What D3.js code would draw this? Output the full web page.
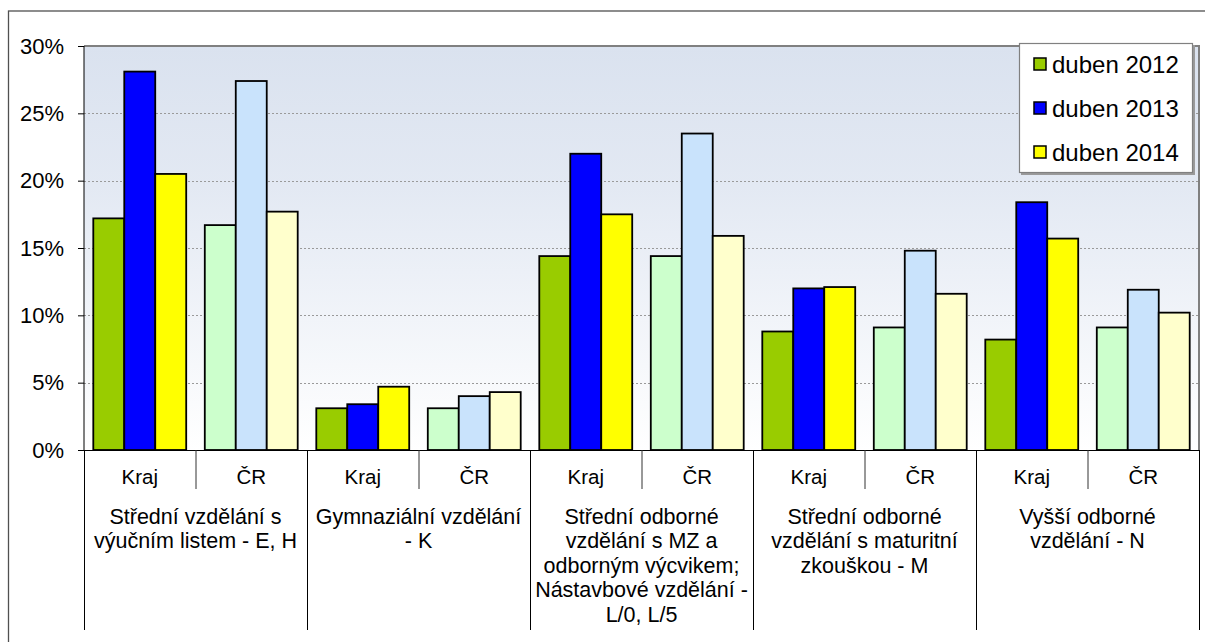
<!DOCTYPE html>
<html><head><meta charset="utf-8">
<script src="https://cdn.jsdelivr.net/npm/d3@7"></script>
<style>html,body{margin:0;padding:0;background:#fff;}svg{display:block;font-family:"Liberation Sans",Arial,sans-serif;}</style>
</head><body>
<svg id="chart" width="1205" height="642"></svg>
<script>
const groups = [
  ["Střední vzdělání s", "výučním listem - E, H"],
  ["Gymnaziální vzdělání", "- K"],
  ["Střední odborné", "vzdělání s MZ a", "odborným výcvikem;", "Nástavbové vzdělání -", "L/0, L/5"],
  ["Střední odborné", "vzdělání s maturitní", "zkouškou - M"],
  ["Vyšší odborné", "vzdělání - N"]
];
const subLabels = ["Kraj", "ČR"];
const seriesNames = ["duben 2012", "duben 2013", "duben 2014"];
const s2012 = [17.2, 16.7, 3.1, 3.1, 14.4, 14.4, 8.8, 9.1, 8.2, 9.1];
const s2013 = [28.1, 27.4, 3.4, 4.0, 22.0, 23.5, 12.0, 14.8, 18.4, 11.9];
const s2014 = [20.5, 17.7, 4.7, 4.3, 17.5, 15.9, 12.1, 11.6, 15.7, 10.2];
const yTicks = [0, 5, 10, 15, 20, 25, 30];
const krajColors = ["#99CC00", "#0000FF", "#FFFF00"];
const crColors = ["#CCFFCC", "#C9E3FC", "#FFFFCC"];

const seriesValues = [s2012, s2013, s2014];
const svg = d3.select("#chart");
const L = 84, R = 1199, T = 46, B = 450;

// outer frame
svg.append("rect").attr("x", 8.5).attr("y", 11).attr("width", 1210).attr("height", 640)
  .attr("fill", "none").attr("stroke", "#505050").attr("stroke-width", 1.3);

const defs = svg.append("defs");
const grad = defs.append("linearGradient").attr("id", "bg").attr("x1", 0).attr("y1", 0).attr("x2", 0).attr("y2", 1);
grad.append("stop").attr("offset", "0%").attr("stop-color", "#DAE2EF");
grad.append("stop").attr("offset", "35%").attr("stop-color", "#E3E9F3");
grad.append("stop").attr("offset", "100%").attr("stop-color", "#FFFFFF");

svg.append("rect").attr("x", L).attr("y", T).attr("width", R - L).attr("height", B - T).attr("fill", "url(#bg)");

const y = d3.scaleLinear().domain([0, 30]).range([B, T]);
const subKeys = d3.range(10);
const x0 = d3.scaleBand().domain(subKeys).range([L, R]).paddingInner(0).paddingOuter(0);
const x1 = d3.scaleBand().domain(d3.range(3)).range([0, x0.bandwidth()]).paddingInner(0).paddingOuter(0.3);
const xg = d3.scaleBand().domain(d3.range(groups.length)).range([L, R]);

// gridlines
svg.append("g").selectAll("line").data(yTicks.filter(t => t > 0 && t < 30)).join("line")
  .attr("x1", L).attr("x2", R).attr("y1", d => Math.round(y(d)) + 0.5).attr("y2", d => Math.round(y(d)) + 0.5)
  .attr("stroke", "#9a9a9a").attr("stroke-width", 1).attr("stroke-dasharray", "2,2");

// plot border top & right
svg.append("line").attr("x1", L).attr("x2", R + 1).attr("y1", T).attr("y2", T).attr("stroke", "#808080").attr("stroke-width", 2);
svg.append("line").attr("x1", R).attr("x2", R).attr("y1", T).attr("y2", B).attr("stroke", "#808080").attr("stroke-width", 2);

// bars
const barData = [];
subKeys.forEach(i => seriesValues.forEach((vals, s) => barData.push({i, s, v: vals[i]})));
svg.append("g").selectAll("rect").data(barData).join("rect")
  .attr("x", d => x0(d.i) + x1(d.s))
  .attr("y", d => y(d.v))
  .attr("width", x1.bandwidth())
  .attr("height", d => B - y(d.v))
  .attr("fill", d => (d.i % 2 === 0 ? krajColors : crColors)[d.s])
  .attr("stroke", "#000").attr("stroke-width", 1.8);

// y axis
const yAxis = d3.axisLeft(y).tickValues(yTicks).tickSize(6).tickPadding(14).tickFormat(d => d + "%");
const ga = svg.append("g").attr("transform", `translate(${L},0)`).call(yAxis);
ga.select(".domain").attr("stroke", "#000").attr("d", `M0,${T}V${B}`);
ga.selectAll(".tick line").attr("stroke", "#000");
ga.selectAll(".tick text").attr("font-size", 22).attr("fill", "#000").attr("font-family", "Liberation Sans, Arial, sans-serif");

// x axis baseline
svg.append("line").attr("x1", L - 6).attr("x2", R).attr("y1", B + 0.5).attr("y2", B + 0.5).attr("stroke", "#000").attr("stroke-width", 1.2);

// sub separators
svg.append("g").selectAll("line").data(subKeys.filter(i => i % 2 === 1)).join("line")
  .attr("x1", i => x0(i) + 0.5).attr("x2", i => x0(i) + 0.5).attr("y1", B).attr("y2", 489)
  .attr("stroke", "#333").attr("stroke-width", 1);
// group separators
svg.append("g").selectAll("line").data(d3.range(groups.length + 1)).join("line")
  .attr("x1", g => (g < groups.length ? xg(g) : R) + 0.5).attr("x2", g => (g < groups.length ? xg(g) : R) + 0.5)
  .attr("y1", B).attr("y2", 630).attr("stroke", "#000").attr("stroke-width", 1);

// sub labels
svg.append("g").selectAll("text").data(subKeys).join("text")
  .attr("x", i => x0(i) + x0.bandwidth() / 2).attr("y", 484)
  .attr("text-anchor", "middle").attr("font-size", 20.5).attr("fill", "#000")
  .text(i => subLabels[i % 2]);

// group labels
const gl = svg.append("g").selectAll("text").data(groups).join("text")
  .attr("text-anchor", "middle").attr("font-size", 21.5).attr("fill", "#000");
gl.each(function(lines, g) {
  d3.select(this).selectAll("tspan").data(lines).join("tspan")
    .attr("x", xg(g) + xg.bandwidth() / 2)
    .attr("y", (d, k) => 524 + k * 24.4)
    .text(d => d);
});

// legend
const lg = svg.append("g");
lg.append("rect").attr("x", 1021).attr("y", 45).attr("width", 174).attr("height", 130).attr("fill", "#9a9a9a");
lg.append("rect").attr("x", 1019.5).attr("y", 43.5).attr("width", 173).attr("height", 129).attr("fill", "#fff").attr("stroke", "#808080").attr("stroke-width", 1.2);
const items = lg.selectAll("g.item").data(seriesNames).join("g").attr("class", "item")
  .attr("transform", (d, k) => `translate(1034,${64 + k * 44})`);
items.append("rect").attr("x", 0).attr("y", -6).attr("width", 12).attr("height", 12)
  .attr("fill", (d, k) => krajColors[k]).attr("stroke", "#000").attr("stroke-width", 1.5);
items.append("text").attr("x", 18).attr("y", 0).attr("dy", "0.36em").attr("font-size", 24).attr("fill", "#000").text(d => d);
</script>
</body></html>
